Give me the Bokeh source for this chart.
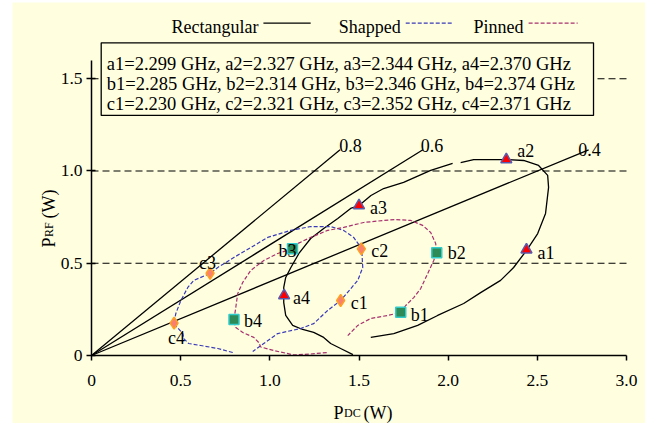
import math
from bokeh.plotting import figure
from bokeh.models import Range1d, FixedTicker, ColumnDataSource, Spacer
from bokeh.layouts import row, column
from bokeh.embed import file_html
from bokeh.resources import INLINE
from bokeh.core.properties import value

NAN = float("nan")

# ---------------- data ----------------
eff_values = [0.8, 0.6, 0.4]
eff_labels = ["0.8", "0.6", "0.4"]
eff_line_top = 1.115            # P_RF where the iso-efficiency lines stop
eff_label_x = [1.453, 1.910, 2.793]
eff_label_y = [1.138, 1.138, 1.117]

# Rectangular (solid black)
rect_pdc = [1.466, 1.397, 1.341, 1.302, 1.246, 1.184, 1.128, 1.089, 1.078, 1.078,
            1.089, 1.118, 1.163, 1.229, 1.302, 1.381, 1.453, 1.500, 1.567, 1.638,
            1.750, 1.902, 2.025, NAN, 2.070, 2.143, 2.328, 2.423, 2.507, 2.558,
            2.563, 2.546, 2.502, 2.439, 2.367, 2.294, 2.182, 2.087, 1.941, 1.829,
            1.695, 1.566]
rect_prf = [0.005, 0.038, 0.065, 0.098, 0.125, 0.141, 0.163, 0.217, 0.287, 0.369,
            0.423, 0.477, 0.553, 0.634, 0.688, 0.743, 0.797, 0.813, 0.867, 0.905,
            0.938, 1.003, 1.041, NAN, 1.046, 1.062, 1.062, 1.057, 1.030, 0.976,
            0.911, 0.770, 0.661, 0.569, 0.477, 0.407, 0.341, 0.282, 0.217, 0.163,
            0.119, 0.098]

# Shapped (blue dashed)
shap_pdc = [0.792, 0.708, 0.613, 0.545, 0.517, 0.512, 0.461, 0.473, 0.501, 0.540,
            0.573, 0.663, 0.708, 0.798, 0.893, 0.988, 1.117, 1.229, 1.341, 1.414,
            1.470, 1.515, 1.521, 1.493, 1.397, 1.324, 1.246, 1.173, 1.044, 0.966,
            0.904]
shap_prf = [0.016, 0.038, 0.054, 0.065, 0.092, 0.119, 0.173, 0.228, 0.298, 0.369,
            0.407, 0.444, 0.477, 0.531, 0.585, 0.640, 0.678, 0.699, 0.699, 0.678,
            0.640, 0.580, 0.477, 0.407, 0.298, 0.244, 0.173, 0.146, 0.119, 0.065,
            0.022]

# Pinned (magenta dashed)
pin_pdc = [1.319, 1.229, 1.134, 1.022, 0.949, 0.938, 0.910, 0.848, 0.809, 0.798,
           0.809, 0.820, 0.848, 0.893, 0.966, 1.044, 1.128, 1.157, 1.229, 1.324,
           1.414, 1.526, 1.638, 1.706, 1.790, 1.857, 1.902, 1.930, 1.936, 1.919,
           1.885, 1.846, 1.807, 1.762, 1.734, 1.661, 1.566, 1.493, 1.437]
pin_prf = [0.016, 0.008, 0.003, 0.027, 0.046, 0.070, 0.098, 0.125, 0.152, 0.190,
           0.260, 0.336, 0.396, 0.461, 0.515, 0.553, 0.580, 0.607, 0.640, 0.678,
           0.694, 0.721, 0.732, 0.737, 0.732, 0.705, 0.667, 0.607, 0.558, 0.515,
           0.444, 0.363, 0.314, 0.271, 0.233, 0.217, 0.201, 0.163, 0.108]

# Marked operating points
a_names = ["a1", "a2", "a3", "a4"]
a_freq = ["2.299", "2.327", "2.344", "2.370"]
a_pdc = [2.439, 2.326, 1.500, 1.080]
a_prf = [0.573, 1.062, 0.813, 0.325]

b_names = ["b1", "b2", "b3", "b4"]
b_freq = ["2.285", "2.314", "2.346", "2.374"]
b_pdc = [1.734, 1.936, 1.127, 0.799]
b_prf = [0.235, 0.557, 0.578, 0.195]

c_names = ["c1", "c2", "c3", "c4"]
c_freq = ["2.230", "2.321", "2.352", "2.371"]
c_pdc = [1.397, 1.513, 0.665, 0.463]
c_prf = [0.298, 0.578, 0.446, 0.175]

x_ticks = [0, 0.5, 1.0, 1.5, 2.0, 2.5, 3.0]
x_tick_labels = ["0", "0.5", "1.0", "1.5", "2.0", "2.5", "3.0"]
y_ticks = [0, 0.5, 1.0, 1.5]
y_tick_labels = ["0", "0.5", "1.0", "1.5"]
grid_y = [0.5, 1.0, 1.5]
x_max, y_max = 3.0, 1.6

# ---------------- styles / layout ----------------
BG = "#FFFFE0"
FONT = "Liberation Serif"
BLUE = "#3A3AB8"
MAG = "#A8306E"

# label offsets (screen px: dx, dy-down) for marker names
a_off = [(11, 3), (11, -9), (11, 2), (9, 2)]
b_off = [(10, 3), (11, 0), (-14, 2), (10, 1)]
c_off = [(10, 2), (10, 2), (-11, -10), (-6, 15)]

p = figure(width=633, height=421,
           x_range=Range1d(-0.4430, 3.1065), y_range=Range1d(-0.3686, 1.9133),
           output_backend="svg", toolbar_location=None,
           min_border_left=0, min_border_right=0, min_border_top=0, min_border_bottom=0,
           background_fill_color=BG, border_fill_color=BG, outline_line_color=None)

# axes, fixed at the origin
for ax in (p.xaxis, p.yaxis):
    ax.fixed_location = 0
    ax.axis_line_width = 1.5
    ax.axis_line_color = "black"
    ax.major_tick_line_width = 1.5
    ax.major_tick_line_color = "black"
    ax.minor_tick_line_color = None
    ax.major_label_text_font = FONT
    ax.major_label_text_font_size = "17.5px"
    ax.major_label_text_color = "black"

p.xaxis.ticker = FixedTicker(ticks=x_ticks)
p.xaxis.major_label_overrides = {float(t): l for t, l in zip(x_ticks, x_tick_labels)}
p.xaxis.bounds = (0, x_max)
p.xaxis.major_tick_in = 0
p.xaxis.major_tick_out = 5
p.xaxis.major_label_standoff = 15

p.yaxis.ticker = FixedTicker(ticks=y_ticks)
p.yaxis.major_label_overrides = {float(t): l for t, l in zip(y_ticks, y_tick_labels)}
p.yaxis.bounds = (0, y_max)
p.yaxis.major_tick_in = 4
p.yaxis.major_tick_out = 5
p.yaxis.major_label_standoff = 4

p.xgrid.visible = False
p.ygrid.visible = False
# dashed horizontal grid lines between the axis limits
p.segment(x0=[0] * len(grid_y), x1=[x_max] * len(grid_y), y0=grid_y, y1=grid_y,
          line_color="black", line_width=1.2, line_dash="7 4", level="underlay")

# iso-efficiency lines
p.multi_line(xs=[[0, eff_line_top / e] for e in eff_values],
             ys=[[0, eff_line_top] for e in eff_values],
             line_color="black", line_width=1.3)
p.text(x=eff_label_x, y=eff_label_y, text=eff_labels, text_font=value(FONT),
       text_font_size="18px", text_align="center", text_baseline="alphabetic",
       text_color="black")

# curves
p.line(rect_pdc, rect_prf, line_color="black", line_width=1.3)
p.line(shap_pdc, shap_prf, line_color=BLUE, line_width=1.2, line_dash="4 2")
p.line(pin_pdc, pin_prf, line_color=MAG, line_width=1.2, line_dash="4 2")

# markers
p.scatter(a_pdc, a_prf, marker="triangle", size=11, fill_color="#FF0000",
          line_color="#5A5AAA", line_width=1.5)
p.scatter(b_pdc, b_prf, marker="square", size=10, fill_color="#2E8B57",
          line_color="#33CCCC", line_width=1.5)
p.scatter(c_pdc, c_prf, marker="diamond", size=12, fill_color="#F88070",
          line_color="#FFA020", line_width=1.5)

for names, xs, ys, offs in ((a_names, a_pdc, a_prf, a_off),
                            (b_names, b_pdc, b_prf, b_off),
                            (c_names, c_pdc, c_prf, c_off)):
    src = ColumnDataSource(dict(x=xs, y=ys, t=names,
                                dx=[o[0] for o in offs], dy=[o[1] for o in offs]))
    p.text(x="x", y="y", text="t", x_offset="dx", y_offset="dy", source=src,
           text_font=value(FONT), text_font_size="18px", text_align="left",
           text_baseline="middle", text_color="black")

# frequency box
box_l, box_r, box_t, box_b = 0.0544, 2.815, 1.695, 1.301
p.quad(left=[box_l], right=[box_r], top=[box_t], bottom=[box_b],
       fill_color=BG, line_color="black", line_width=1.3)
lines = []
for names, freqs in ((a_names, a_freq), (b_names, b_freq), (c_names, c_freq)):
    lines.append(", ".join(f"{n}={f} GHz" for n, f in zip(names, freqs)))
p.text(x=[0.0858] * 3, y=[1.581, 1.473, 1.364], text=lines, text_font=value(FONT),
       text_font_size="18.5px", text_align="left", text_baseline="alphabetic",
       text_color="black")

# legend at top
leg_names = ["Rectangular", "Shapped", "Pinned"]
leg_colors = ["black", BLUE, MAG]
leg_dash = ["solid", "4 2", "4 2"]
leg_x0 = [0.964, 1.762, 2.451]
leg_x1 = [1.229, 2.025, 2.726]
leg_line_y = 1.8016
leg_text_y = 1.783
p.text(x=leg_x0, y=[leg_text_y] * 3, text=leg_names, x_offset=-5,
       text_font=value(FONT), text_font_size="18px", text_align="right",
       text_baseline="alphabetic", text_color="black")
for x0, x1, c, d in zip(leg_x0, leg_x1, leg_colors, leg_dash):
    p.segment(x0=[x0], y0=[leg_line_y], x1=[x1], y1=[leg_line_y],
              line_color=c, line_width=1.3, line_dash=d)

# axis titles with subscripts
def title_part(x, y, text, size, angle=0.0):
    p.text(x=[x], y=[y], text=[text], angle=angle, text_font=value(FONT),
           text_font_size=size, text_color="black", text_baseline="alphabetic",
           text_align="left")

title_part(1.357, -0.309, "P", "18px")
title_part(1.416, -0.309, "DC", "12px")
title_part(1.525, -0.309, "(W)", "18px")
title_part(-0.2411, 0.5854, "P", "18px", math.pi / 2)
title_part(-0.2411, 0.6423, "RF", "12px", math.pi / 2)
title_part(-0.2411, 0.7425, "(W)", "18px", math.pi / 2)

layout = column(Spacer(height=2), row(Spacer(width=12), p))
open("out.html", "w").write(file_html(layout, INLINE))
